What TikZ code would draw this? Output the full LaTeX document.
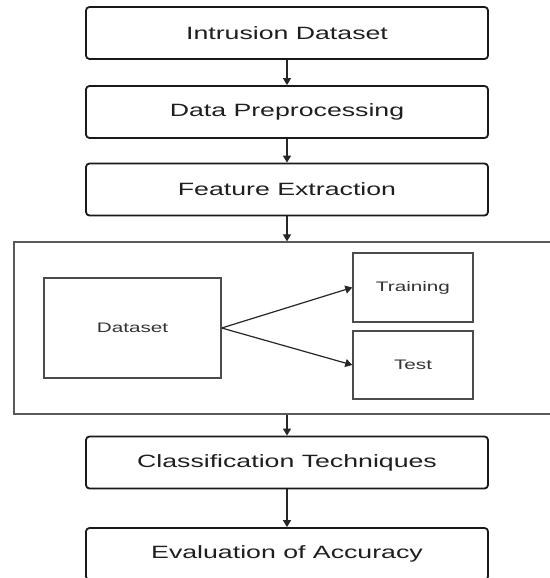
\documentclass[tikz,border=0pt]{standalone}
\usepackage{fontspec}
\setmainfont{Liberation Sans}
\usetikzlibrary{arrows.meta}
\newcommand{\wideT}[1]{\scalebox{1.5}[1]{#1}}
\begin{document}
\begin{tikzpicture}[x=1pt,y=-1pt,
  mainbox/.style={draw=black!90,line width=1.8pt,rounded corners=3.5pt,minimum width=402pt,minimum height=52pt,inner sep=0pt,font=\fontsize{17.8}{20}\selectfont,text=black!88},
  subbox/.style={draw=black!70,line width=1.4pt,inner sep=0pt,font=\fontsize{13.8}{16}\selectfont,text=black!80},
  outerbox/.style={draw=black!65,line width=1.3pt,inner sep=0pt},
  arr/.style={draw=black!85,line width=1.2pt,-{Triangle[length=7pt,width=8pt]}}]
\useasboundingbox (0,0) rectangle (549,578);
\fill[white] (0,0) rectangle (549,578);
\node[mainbox] (b1) at (287,33) {\wideT{Intrusion Dataset}};
\node[mainbox] (b2) at (287,112) {\wideT{Data Preprocessing}};
\node[mainbox] (b3) at (287,189.5) {\wideT{Feature Extraction}};
\node[outerbox,minimum width=537pt,minimum height=172pt] (split) at (282.5,328) {};
\node[subbox,minimum width=177pt,minimum height=100pt] (ds) at (132.5,328) {\wideT{Dataset}};
\node[subbox,minimum width=120pt,minimum height=69pt] (tr) at (413,287.5) {\wideT{Training}};
\node[subbox,minimum width=120pt,minimum height=68pt] (te) at (413,365) {\wideT{Test}};
\node[mainbox] (b4) at (287,462.5) {\wideT{Classification Techniques}};
\node[mainbox] (b5) at (287,554) {\wideT{Evaluation of Accuracy}};
\draw[arr] (b1.south) -- (b2.north);
\draw[arr] (b2.south) -- (b3.north);
\draw[arr] (b3.south) -- (b3.south |- split.north);
\draw[arr] (ds.east) -- (tr.west);
\draw[arr] (ds.east) -- (te.west);
\draw[arr] (b4.north |- split.south) -- (b4.north);
\draw[arr] (b4.south) -- (b5.north);
\end{tikzpicture}
\end{document}
